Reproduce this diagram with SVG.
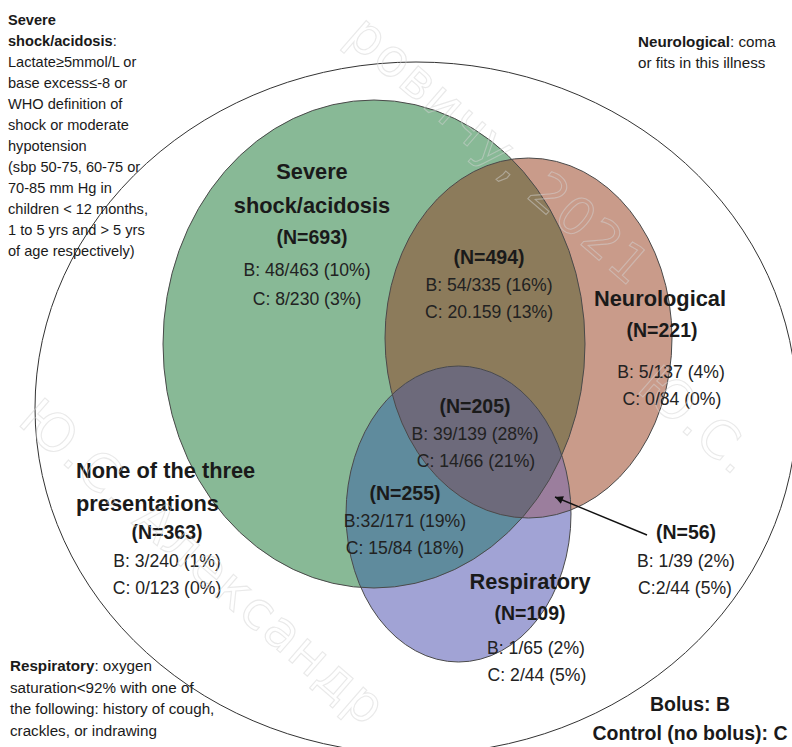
<svg xmlns="http://www.w3.org/2000/svg" width="792" height="747" viewBox="0 0 792 747">
<style>
text{font-family:"Liberation Sans",Arial,Helvetica,sans-serif;fill:#1a1a1a}
.def{font-size:14.6px}
.defr{font-size:15.2px}
.b{font-weight:bold}
.h{font-size:21.8px;font-weight:bold;text-anchor:middle}
.n{font-size:19.5px;font-weight:bold;text-anchor:middle}
.d{font-size:17.6px;text-anchor:middle;fill:#222}
.hl{font-size:21.8px;font-weight:bold}
.edge{fill:none;stroke:#4a4a4a;stroke-width:1}
.wm{font-family:"DejaVu Sans",sans-serif;font-size:52px;letter-spacing:2px;fill:none;stroke:#d4d4d4;stroke-opacity:0.5;stroke-width:1.1}
</style>
<defs>
<clipPath id="clipG"><ellipse cx="374" cy="344" rx="211" ry="244"/></clipPath>
<clipPath id="clipR"><ellipse cx="528.5" cy="338" rx="143.5" ry="180"/></clipPath>
<marker id="arr" viewBox="0 0 10 10" refX="10" refY="5" markerWidth="9" markerHeight="8" markerUnits="userSpaceOnUse" orient="auto">
<path d="M0,0 L10,5 L0,10 z" fill="#111"/>
</marker>
</defs>
<rect width="792" height="747" fill="#fff"/>

<g id="population">
<ellipse cx="416" cy="408" rx="381" ry="346" fill="none" stroke="#333" stroke-width="1"/>
</g>

<g id="severe-shock">
<ellipse cx="374" cy="344" rx="211" ry="244" fill="#88b996"/>
</g>
<g id="neurological">
<ellipse cx="528.5" cy="338" rx="143.5" ry="180" fill="#c99b8a"/>
<ellipse cx="528.5" cy="338" rx="143.5" ry="180" fill="#8c7b5b" clip-path="url(#clipG)"/>
</g>
<g id="respiratory">
<ellipse cx="458.5" cy="514" rx="112.5" ry="148" fill="#a1a3d5"/>
<ellipse cx="458.5" cy="514" rx="112.5" ry="148" fill="#5f8b9d" clip-path="url(#clipG)"/>
<ellipse cx="458.5" cy="514" rx="112.5" ry="148" fill="#9b7e9d" clip-path="url(#clipR)"/>
<g clip-path="url(#clipR)"><ellipse cx="458.5" cy="514" rx="112.5" ry="148" fill="#6d6a7b" clip-path="url(#clipG)"/></g>
</g>
<g id="outlines">
<ellipse class="edge" cx="374" cy="344" rx="211" ry="244"/>
<ellipse class="edge" cx="528.5" cy="338" rx="143.5" ry="180"/>
<ellipse class="edge" cx="458.5" cy="514" rx="112.5" ry="148"/>
</g>

<g id="connectors">
<line x1="647" y1="535" x2="555" y2="497" stroke="#111" stroke-width="1.4" marker-end="url(#arr)"/>
</g>

<g id="def-severe">
<text class="def" x="8" y="25"><tspan class="b">Severe</tspan></text>
<text class="def" x="8" y="46"><tspan class="b">shock/acidosis</tspan>:</text>
<text class="def" x="8" y="67">Lactate≥5mmol/L or</text>
<text class="def" x="8" y="88">base excess≤-8 or</text>
<text class="def" x="8" y="109">WHO definition of</text>
<text class="def" x="8" y="130">shock or moderate</text>
<text class="def" x="8" y="151">hypotension</text>
<text class="def" x="8" y="172">(sbp 50-75, 60-75 or</text>
<text class="def" x="8" y="193">70-85 mm Hg in</text>
<text class="def" x="8" y="214">children &lt; 12 months,</text>
<text class="def" x="8" y="235">1 to 5 yrs and &gt; 5 yrs</text>
<text class="def" x="8" y="256">of age respectively)</text>
</g>

<g id="def-neuro">
<text class="defr" x="638" y="47"><tspan class="b">Neurological</tspan>: coma</text>
<text class="defr" x="638" y="68">or fits in this illness</text>
</g>

<g id="def-resp">
<text class="defr" x="10" y="671"><tspan class="b">Respiratory</tspan>: oxygen</text>
<text class="defr" x="10" y="692.5">saturation&lt;92% with one of</text>
<text class="defr" x="10" y="714">the following: history of cough,</text>
<text class="defr" x="10" y="735.5">crackles, or indrawing</text>
</g>

<g id="label-severe">
<text class="h" x="312" y="179">Severe</text>
<text class="h" x="312" y="213">shock/acidosis</text>
<text class="n" x="312" y="244">(N=693)</text>
<text class="d" x="307" y="276">B: 48/463 (10%)</text>
<text class="d" x="307" y="305">C: 8/230 (3%)</text>
</g>

<g id="label-severe-neuro">
<text class="n" x="489" y="264">(N=494)</text>
<text class="d" x="489" y="291">B: 54/335 (16%)</text>
<text class="d" x="489" y="318">C: 20.159 (13%)</text>
</g>

<g id="label-neuro">
<text class="h" x="660" y="306">Neurological</text>
<text class="n" x="662" y="337">(N=221)</text>
<text class="d" x="671" y="378">B: 5/137 (4%)</text>
<text class="d" x="672" y="405">C: 0/84 (0%)</text>
</g>

<g id="label-all-three">
<text class="n" x="475" y="413">(N=205)</text>
<text class="d" x="475" y="440">B: 39/139 (28%)</text>
<text class="d" x="476" y="467">C: 14/66 (21%)</text>
</g>

<g id="label-severe-resp">
<text class="n" x="405" y="500">(N=255)</text>
<text class="d" x="405" y="527">B:32/171 (19%)</text>
<text class="d" x="405" y="554">C: 15/84 (18%)</text>
</g>

<g id="label-none">
<text class="hl" x="76" y="478">None of the three</text>
<text class="hl" x="76" y="511">presentations</text>
<text class="n" x="167" y="539">(N=363)</text>
<text class="d" x="167" y="567">B: 3/240 (1%)</text>
<text class="d" x="167" y="594">C: 0/123 (0%)</text>
</g>

<g id="label-resp">
<text class="h" x="530" y="589">Respiratory</text>
<text class="n" x="530" y="620">(N=109)</text>
<text class="d" x="536" y="654">B: 1/65 (2%)</text>
<text class="d" x="537" y="681">C: 2/44 (5%)</text>
</g>

<g id="label-neuro-resp">
<text class="n" x="686" y="539">(N=56)</text>
<text class="d" x="686" y="567">B: 1/39 (2%)</text>
<text class="d" x="685" y="594">C:2/44 (5%)</text>
</g>

<g id="legend">
<text class="n" x="690" y="711">Bolus: B</text>
<text class="n" x="690" y="740">Control (no bolus): C</text>
</g>

<g id="watermark">
<text class="wm" transform="translate(344,39) rotate(41)">ровичу, 2021</text>
<text class="wm" transform="translate(16,423) rotate(41)">Ю.С. Александр</text>
<text class="wm" transform="translate(635,390) rotate(41)">Ю.С.</text>
</g>
</svg>
